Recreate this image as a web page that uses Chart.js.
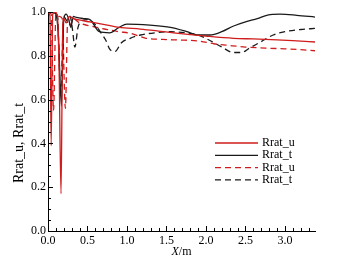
<!DOCTYPE html>
<html>
<head>
<meta charset="utf-8">
<script src="https://cdn.jsdelivr.net/npm/chart.js@4"></script>
<style>
  html, body { margin: 0; padding: 0; background: #fff; }
  #wrap { width: 353px; height: 261px; }
</style>
</head>
<body>
<div id="wrap"><canvas id="chart" width="353" height="261"></canvas></div>
<script>
// Rrat_u, solid red
const uSolidX = [0, 0.025, 0.04, 0.06, 0.09, 0.12, 0.14, 0.165, 0.185, 0.2, 0.23, 0.27, 0.32, 0.45, 0.6, 0.75, 0.9, 1.17, 1.4, 1.59, 1.8, 2.0, 2.35, 2.6, 2.9, 3.15, 3.38];
const uSolidY = [1.0, 0.98, 0.39, 0.99, 1.0, 0.98, 0.75, 0.17, 0.9, 0.97, 0.95, 0.98, 0.97, 0.96, 0.95, 0.94, 0.93, 0.922, 0.913, 0.905, 0.897, 0.89, 0.88, 0.877, 0.873, 0.868, 0.863];
// Rrat_t, solid black
const tSolidX = [0, 0.05, 0.1, 0.13, 0.17, 0.2, 0.23, 0.26, 0.29, 0.32, 0.36, 0.45, 0.53, 0.65, 0.78, 0.9, 1.0, 1.29, 1.55, 1.76, 1.89, 2.05, 2.2, 2.35, 2.5, 2.65, 2.78, 2.94, 3.15, 3.38];
const tSolidY = [1.0, 1.0, 0.99, 0.9, 0.57, 0.97, 0.99, 0.97, 0.93, 0.98, 0.975, 0.97, 0.965, 0.91, 0.905, 0.93, 0.945, 0.94, 0.93, 0.91, 0.895, 0.895, 0.91, 0.936, 0.955, 0.97, 0.986, 0.99, 0.985, 0.977];
// Rrat_u, dashed red
const uDashX = [0, 0.04, 0.07, 0.1, 0.14, 0.18, 0.22, 0.25, 0.28, 0.32, 0.4, 0.55, 0.75, 0.9, 1.04, 1.24, 1.45, 1.65, 1.9, 2.1, 2.3, 2.5, 2.75, 3.0, 3.2, 3.38];
const uDashY = [1.0, 0.99, 0.55, 0.99, 0.98, 0.97, 0.56, 0.97, 0.94, 0.97, 0.95, 0.935, 0.92, 0.91, 0.903, 0.88, 0.875, 0.872, 0.868, 0.855, 0.847, 0.84, 0.835, 0.832, 0.828, 0.823];
// Rrat_t, dashed black
const tDashX = [0, 0.08, 0.12, 0.16, 0.2, 0.24, 0.28, 0.31, 0.34, 0.38, 0.43, 0.5, 0.58, 0.67, 0.73, 0.79, 0.85, 0.93, 1.04, 1.17, 1.35, 1.55, 1.75, 1.9, 2.05, 2.2, 2.35, 2.45, 2.55, 2.7, 2.85, 3.0, 3.2, 3.38];
const tDashY = [1.0, 1.0, 0.98, 0.62, 0.98, 0.96, 0.98, 0.92, 0.84, 0.93, 0.96, 0.965, 0.95, 0.905, 0.872, 0.826, 0.82, 0.86, 0.88, 0.895, 0.905, 0.91, 0.905, 0.895, 0.87, 0.84, 0.815, 0.815, 0.835, 0.865, 0.895, 0.91, 0.92, 0.925];

const legendLabels = ['Rrat_u', 'Rrat_t', 'Rrat_u', 'Rrat_t'];
const xTitleItalic = 'X';
const xTitleRest = '/m';
const yTitle = 'Rrat_u, Rrat_t';

const RED = '#d01c1c';
const BLACK = '#1a1a1a';
const FONT = '"Liberation Serif", "DejaVu Serif", serif';

function pts(xs, ys) {
    return xs.map((x, i) => ({ x: x, y: ys[i] }));
}

const series = [
    { data: pts(uSolidX, uSolidY), color: RED, dash: [] },
    { data: pts(tSolidX, tSolidY), color: BLACK, dash: [] },
    { data: pts(uDashX, uDashY), color: RED, dash: [6, 4] },
    { data: pts(tDashX, tDashY), color: BLACK, dash: [6, 4] }
];

// inward ticks, titles and the legend inside the plot
const decor = {
    id: 'decor',
    afterDraw(chart) {
        const c = chart.ctx;
        const xs = chart.scales.x, ys = chart.scales.y;
        const a = chart.chartArea;
        c.save();
        c.strokeStyle = '#000';
        c.lineWidth = 1;
        c.beginPath();
        for (let i = 0; i <= 33; i++) {
            const px = Math.round(xs.getPixelForValue(i / 10)) + 0.5;
            const len = i % 5 === 0 ? 5 : 3;
            c.moveTo(px, a.bottom);
            c.lineTo(px, a.bottom - len);
        }
        for (let i = 0; i <= 20; i++) {
            const py = Math.round(ys.getPixelForValue(i / 20)) + 0.5;
            const len = i % 4 === 0 ? 5 : 3;
            c.moveTo(a.left, py);
            c.lineTo(a.left + len, py);
        }
        c.stroke();

        // x title
        c.fillStyle = '#000';
        c.textBaseline = 'middle';
        c.font = 'italic 12px ' + FONT;
        const w1 = c.measureText(xTitleItalic).width;
        c.font = '12px ' + FONT;
        const w2 = c.measureText(xTitleRest).width;
        const cx = (a.left + a.right) / 2 - (w1 + w2) / 2;
        c.textAlign = 'left';
        c.font = 'italic 12px ' + FONT;
        c.fillText(xTitleItalic, cx, 252);
        c.font = '12px ' + FONT;
        c.fillText(xTitleRest, cx + w1, 252);

        // y title
        c.save();
        c.translate(19, 143);
        c.rotate(-Math.PI / 2);
        c.textAlign = 'center';
        c.font = '14px ' + FONT;
        c.fillText(yTitle, 0, 0);
        c.restore();

        // legend
        c.font = '12px ' + FONT;
        c.textAlign = 'left';
        series.forEach((s, i) => {
            const y = 143 + i * 12.3;
            c.strokeStyle = s.color;
            c.lineWidth = 1.3;
            c.setLineDash(s.dash);
            c.beginPath();
            c.moveTo(215, y);
            c.lineTo(258, y);
            c.stroke();
            c.setLineDash([]);
            c.fillStyle = '#000';
            c.fillText(legendLabels[i], 262, y);
        });
        c.restore();
    }
};

const chart = new Chart(document.getElementById('chart').getContext('2d'), {
    type: 'line',
    data: {
        datasets: series.map(s => ({
            data: s.data,
            borderColor: s.color,
            borderWidth: 1.3,
            borderDash: s.dash,
            pointRadius: 0,
            cubicInterpolationMode: 'monotone',
            fill: false
        }))
    },
    options: {
        responsive: false,
        animation: false,
        layout: { padding: { top: 12, right: 38, left: 0, bottom: 0 } },
        plugins: { legend: { display: false }, tooltip: { enabled: false } },
        scales: {
            x: {
                type: 'linear',
                min: 0,
                max: 3.38,
                afterFit: s => { s.height = 30; },
                border: { color: '#000', width: 1 },
                grid: { display: false, drawTicks: false },
                ticks: {
                    stepSize: 0.5,
                    includeBounds: false,
                    autoSkip: false,
                    maxRotation: 0,
                    padding: 3,
                    color: '#000',
                    font: { family: FONT, size: 12 },
                    callback: v => v.toFixed(1)
                }
            },
            y: {
                type: 'linear',
                min: 0,
                max: 1,
                afterFit: s => { s.width = 48; },
                border: { color: '#000', width: 1 },
                grid: { display: false, drawTicks: false },
                ticks: {
                    stepSize: 0.2,
                    padding: 2,
                    color: '#000',
                    font: { family: FONT, size: 12 },
                    callback: v => v.toFixed(1)
                }
            }
        }
    },
    plugins: [decor]
});
</script>
</body>
</html>
